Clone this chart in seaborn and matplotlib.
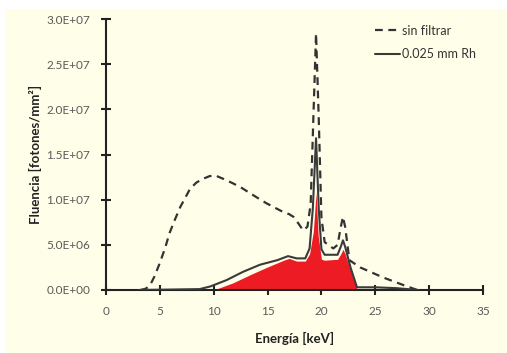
import numpy as np
import pandas as pd
import matplotlib
matplotlib.use("Agg")
import matplotlib.pyplot as plt
import matplotlib.ticker as mticker
from matplotlib.patches import Rectangle
import seaborn as sns

# ---- data (keV, photons/mm^2) ----
energy_sin = [3.2, 3.7, 4.1, 4.5, 5.0, 5.5, 5.9, 6.4, 6.9, 7.4, 7.8, 8.4, 9.0, 9.6, 10.1,
              10.9, 11.8, 12.6, 13.4, 14.2, 14.9, 15.7, 16.5, 17.0, 17.4, 17.9, 18.3,
              18.7, 19.0, 19.25, 19.5, 19.75, 20.0, 20.3, 21.1, 21.5, 21.8, 22.0, 22.2,
              22.6, 23.6, 25.7, 27.6, 28.9]
fluence_sin = [0.0, 0.15e6, 0.55e6, 1.5e6, 3.0e6, 4.7e6, 6.3e6, 7.8e6, 9.2e6, 10.3e6,
               11.2e6, 11.9e6, 12.3e6, 12.6e6, 12.7e6, 12.3e6, 11.8e6, 11.3e6, 10.7e6,
               10.1e6, 9.6e6, 9.1e6, 8.6e6, 8.4e6, 8.1e6, 7.3e6, 6.6e6, 7.0e6, 9.5e6,
               19.0e6, 28.4e6, 19.0e6, 8.0e6, 5.3e6, 4.6e6, 5.0e6, 7.0e6, 8.1e6, 7.0e6,
               3.3e6, 2.5e6, 1.4e6, 0.55e6, 0.0]

energy_rh = [3.0, 6.0, 8.7, 9.7, 11.2, 12.7, 14.3, 15.9, 16.9, 17.7, 18.5, 18.9, 19.2,
             19.5, 19.75, 20.0, 20.3, 21.5, 21.8, 22.0, 22.2, 22.7, 23.3, 25.0, 27.0, 29.0]
fluence_rh = [0.0, 0.05e6, 0.1e6, 0.4e6, 1.1e6, 2.0e6, 2.8e6, 3.3e6, 3.75e6, 3.5e6,
              3.5e6, 4.6e6, 9.0e6, 16.8e6, 9.0e6, 4.5e6, 3.9e6, 3.9e6, 4.8e6, 5.5e6,
              4.8e6, 2.5e6, 0.3e6, 0.3e6, 0.2e6, 0.0]

energy_fill = [10.0, 11.8, 13.4, 14.9, 16.5, 17.0, 17.7, 18.5, 18.9, 19.25, 19.5, 19.7,
               20.0, 20.3, 21.5, 21.8, 22.0, 22.2, 22.8, 23.3, 23.31]
fluence_fill = [0.0, 0.8e6, 1.7e6, 2.5e6, 3.3e6, 3.5e6, 3.2e6, 3.2e6, 4.0e6, 6.5e6,
                10.8e6, 6.0e6, 3.4e6, 3.3e6, 3.4e6, 4.0e6, 4.5e6, 4.0e6, 1.8e6, 0.1e6, 0.0]

x_ticks = [0, 5, 10, 15, 20, 25, 30, 35]
y_ticks = [0, 5e6, 1e7, 1.5e7, 2e7, 2.5e7, 3e7]

sns.set_style("ticks")
plt.rcParams['font.family'] = ['Lato', 'DejaVu Sans']

fig = plt.figure(figsize=(5.07, 3.53), dpi=100)
fig.patch.set_facecolor("white")
fig.patches.append(Rectangle((5 / 507, 0), 1, 1 - 9 / 353, transform=fig.transFigure,
                             facecolor="#FFFFE9", edgecolor="none", zorder=-10))
ax = fig.add_axes([106 / 507, 63 / 353, 377 / 507, 271 / 353])
ax.set_facecolor("none")

# red filled area
ax.fill_between(energy_fill, fluence_fill, 0, color="#ED1C24", linewidth=0, zorder=2)

df_sin = pd.DataFrame({"E": energy_sin, "F": fluence_sin})
df_rh = pd.DataFrame({"E": energy_rh, "F": fluence_rh})
sns.lineplot(data=df_sin, x="E", y="F", ax=ax, color="#333333", linestyle=(0, (3.5, 2.5)),
             linewidth=1.6, label="sin filtrar", zorder=3)
sns.lineplot(data=df_rh, x="E", y="F", ax=ax, color="#3a3a3a", linewidth=1.5,
             label="0.025 mm Rh", zorder=4)

ax.set_xlim(0, 35)
ax.set_ylim(0, 3e7)
ax.set_xticks(x_ticks)
ax.set_yticks(y_ticks)
ax.yaxis.set_major_formatter(mticker.FuncFormatter(lambda v, p: "{:.1E}".format(v)))
ax.tick_params(direction="inout", length=7, width=1.5, colors="#222222",
               labelcolor="#595959", labelsize=8.5, pad=8)
for s in ["top", "right"]:
    ax.spines[s].set_visible(False)
for s in ["left", "bottom"]:
    ax.spines[s].set_linewidth(1.5)
    ax.spines[s].set_color("#222222")

ax.set_xlabel("Energía [keV]", fontsize=9.5, fontweight="bold", color="#222222", labelpad=11)
ax.set_ylabel("Fluencia [fotones/mm²]", fontsize=9.5, fontweight="bold", color="#222222",
              labelpad=3)

leg = ax.legend(loc="upper right", frameon=False, fontsize=9, handlelength=2.0,
                handletextpad=0.1, labelspacing=0.9, bbox_to_anchor=(1.01, 1.02))
for t in leg.get_texts():
    t.set_color("#333333")

fig.savefig("out.png", dpi=100)
